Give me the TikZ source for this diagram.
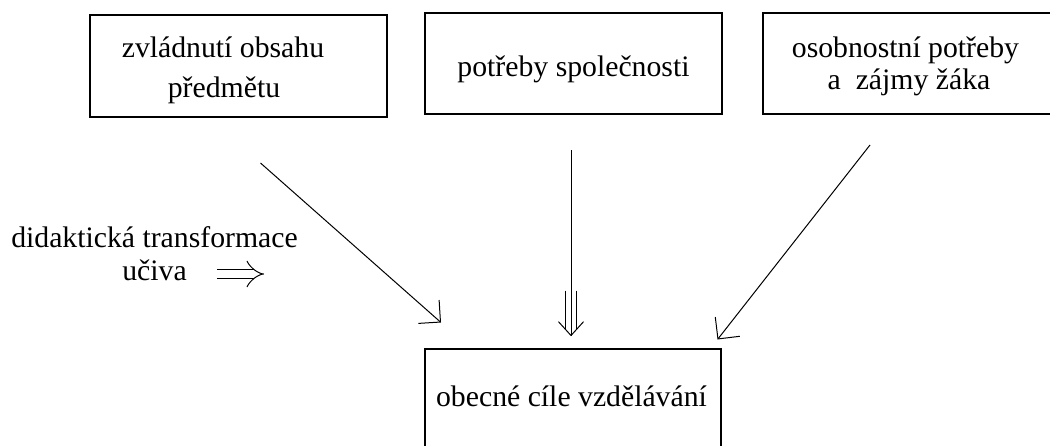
\documentclass[tikz,border=0pt]{standalone}
\usepackage{fontspec}
\setmainfont{Liberation Serif}
\usetikzlibrary{arrows.meta,calc}
\begin{document}
\begin{tikzpicture}[x=0.75pt,y=-0.75pt,
  box/.style={draw, line width=1.2pt, rectangle, inner sep=0pt},
  txt/.style={font=\fontsize{22.3}{30}\selectfont, inner sep=0pt, anchor=base},
  conn/.style={line width=0.75pt},
  barb/.style={-{Straight Barb[length=11.7pt,width=23.4pt]}}
]
\useasboundingbox (0,0) rectangle (1050,446);
% boxes
\node[box, minimum width=222.75pt, minimum height=76.5pt] (b1) at (238.5,66) {};
\node[box, minimum width=222.75pt, minimum height=75.75pt] (b2) at (573.5,63.5) {};
\node[box, minimum width=219pt, minimum height=75.75pt] (b3) at (909,63.5) {};
\node[box, minimum width=222pt, minimum height=86.25pt] (b4) at (573,406.5) {};
% texts
\node[txt] (t1a) at (223,57) {zvládnutí obsahu};
\node[txt] (t1b) at (224,97) {předmětu};
\node[txt] (t2) at (573.5,76) {potřeby společnosti};
\node[txt] (t3a) at (905.5,57) {osobnostní potřeby};
\node[txt] (t3b) at (909,89) {a\ \ zájmy žáka};
\node[txt] (t4) at (571.5,406) {obecné cíle vzdělávání};
\node[txt] (d1) at (154.5,247) {didaktická transformace};
\node[txt] (d2) at (154.5,280) {učiva};
% double arrow beside the label
\coordinate (da1) at (217,274);
\coordinate (da2) at (264,274);
\draw[line width=0.75pt, double, double distance=6.5pt, -{Implies[length=7pt]}] (da1) -- (da2);
% connectors
\coordinate (l1) at (260.5,163);
\coordinate (l2) at (441,322.5);
\draw[conn,barb] (l1) -- (l2);
\coordinate (m1) at (571,150);
\coordinate (m2) at (571,335.5);
\draw[conn] (m1) -- (m2);
\draw[conn] ($(m2)+(-12.5,-13.8)$) -- (m2) -- ($(m2)+(12.5,-13.8)$);
\draw[conn] ($(m2)+(-5.5,-45)$) -- ($(m2)+(-5.5,-6.5)$);
\draw[conn] ($(m2)+(5.5,-45)$) -- ($(m2)+(5.5,-6.5)$);
\coordinate (r1) at (870,145);
\coordinate (r2) at (717.5,339.5);
\draw[conn,barb] (r1) -- (r2);
\end{tikzpicture}
\end{document}
